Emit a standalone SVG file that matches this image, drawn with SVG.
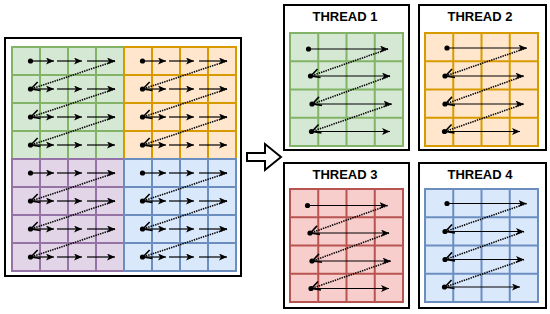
<svg xmlns="http://www.w3.org/2000/svg" width="550" height="314" viewBox="0 0 550 314">
<style>
.box{fill:#fff;stroke:#000;stroke-width:2}
.g{fill:#d5e8d4;stroke:#82b366;stroke-width:2}
.o{fill:#ffe6cc;stroke:#d79b00;stroke-width:2}
.p{fill:#e1d5e7;stroke:#9673a6;stroke-width:2}
.b{fill:#dae8fc;stroke:#6c8ebf;stroke-width:2}
.r{fill:#f8cecc;stroke:#b85450;stroke-width:2}
.gl{fill:none;stroke-width:2}
.t{font-family:"Liberation Sans",Arial,sans-serif;font-weight:bold;font-size:13px;text-anchor:middle;fill:#000}
.a{stroke:#000;stroke-width:1.2;fill:none;marker-end:url(#ah)}
.d{stroke:#000;stroke-width:1.6;stroke-dasharray:1.4 1;fill:none;marker-end:url(#oh)}
.dot{fill:#000}
</style>
<defs>
<marker id="ah" markerUnits="userSpaceOnUse" viewBox="0 0 8 7" markerWidth="8" markerHeight="7" refX="8" refY="3.5" orient="auto">
<path d="M0,0 L8,3.5 L0,7 L2,3.5 Z" fill="#000" stroke="none"/>
</marker>
<marker id="oh" markerUnits="userSpaceOnUse" viewBox="0 0 9 10" markerWidth="9" markerHeight="10" refX="8.5" refY="5" orient="auto" overflow="visible">
<path d="M0,0.5 L8.5,5 L0,9.5" fill="none" stroke="#000" stroke-width="1.6" stroke-dasharray="none"/>
</marker>
</defs>

<g id="all-data">
<rect class="box" x="5" y="38" width="236" height="238"/>
</g>
<g id="block-green">
<rect class="g" x="12" y="47" width="112" height="112"/>
<path class="gl" stroke="#82b366" d="M40,47V159M68,47V159M96,47V159M12,75H124M12,103H124M12,131H124"/>
</g>
<g id="block-orange">
<rect class="o" x="124" y="47" width="112" height="112"/>
<path class="gl" stroke="#d79b00" d="M152,47V159M180,47V159M208,47V159M124,75H236M124,103H236M124,131H236"/>
</g>
<g id="block-purple">
<rect class="p" x="12" y="159" width="112" height="112"/>
<path class="gl" stroke="#9673a6" d="M40,159V271M68,159V271M96,159V271M12,187H124M12,215H124M12,243H124"/>
</g>
<g id="block-blue">
<rect class="b" x="124" y="159" width="112" height="112"/>
<path class="gl" stroke="#6c8ebf" d="M152,159V271M180,159V271M208,159V271M124,187H236M124,215H236M124,243H236"/>
</g>

<g id="thread1">
<rect class="box" x="284" y="5" width="125" height="145"/>
<text class="t" x="345" y="20.5">THREAD 1</text>
<rect class="g" x="290" y="33" width="113" height="113"/>
<path class="gl" stroke="#82b366" d="M318.25,33V146M346.5,33V146M374.75,33V146M290,61.25H403M290,89.5H403M290,117.75H403"/>
</g>
<g id="thread2">
<rect class="box" x="419" y="5" width="127" height="145"/>
<text class="t" x="480" y="20.5">THREAD 2</text>
<rect class="o" x="425" y="33" width="113" height="113"/>
<path class="gl" stroke="#d79b00" d="M453.25,33V146M481.5,33V146M509.75,33V146M425,61.25H538M425,89.5H538M425,117.75H538"/>
</g>
<g id="thread3">
<rect class="box" x="284" y="163" width="125" height="145"/>
<text class="t" x="345" y="178.5">THREAD 3</text>
<rect class="r" x="290" y="189" width="113" height="113"/>
<path class="gl" stroke="#b85450" d="M318.25,189V302M346.5,189V302M374.75,189V302M290,217.25H403M290,245.5H403M290,273.75H403"/>
</g>
<g id="thread4">
<rect class="box" x="419" y="163" width="127" height="145"/>
<text class="t" x="480" y="178.5">THREAD 4</text>
<rect class="b" x="425" y="189" width="113" height="113"/>
<path class="gl" stroke="#6c8ebf" d="M453.25,189V302M481.5,189V302M509.75,189V302M425,217.25H538M425,245.5H538M425,273.75H538"/>
</g>

<g id="connectors">
<polygon points="247,153 265,153 265,144 281,157 265,170 265,161 247,161" fill="#fff" stroke="#000" stroke-width="2" stroke-linejoin="miter"/>

<g id="traversal-green">
<path class="a" d="M30.5,61H54"/><path class="a" d="M57,61H82"/><path class="a" d="M87,61H115"/>
<path class="a" d="M30.5,89H54"/><path class="a" d="M57,89H82"/><path class="a" d="M87,89H115"/>
<path class="a" d="M30.5,117H54"/><path class="a" d="M57,117H82"/><path class="a" d="M87,117H115"/>
<path class="a" d="M30.5,145H54"/><path class="a" d="M57,145H82"/><path class="a" d="M87,145H115"/>
<path class="d" d="M115,61L31,89"/><path class="d" d="M115,89L31,117"/><path class="d" d="M115,117L31,145"/>
<circle class="dot" cx="30.5" cy="61" r="2.6"/><circle class="dot" cx="30.5" cy="89" r="2.6"/><circle class="dot" cx="30.5" cy="117" r="2.6"/><circle class="dot" cx="30.5" cy="145" r="2.6"/>
</g>
<g id="traversal-orange">
<path class="a" d="M142.5,61H166"/><path class="a" d="M169,61H194"/><path class="a" d="M199,61H227"/>
<path class="a" d="M142.5,89H166"/><path class="a" d="M169,89H194"/><path class="a" d="M199,89H227"/>
<path class="a" d="M142.5,117H166"/><path class="a" d="M169,117H194"/><path class="a" d="M199,117H227"/>
<path class="a" d="M142.5,145H166"/><path class="a" d="M169,145H194"/><path class="a" d="M199,145H227"/>
<path class="d" d="M227,61L143,89"/><path class="d" d="M227,89L143,117"/><path class="d" d="M227,117L143,145"/>
<circle class="dot" cx="142.5" cy="61" r="2.6"/><circle class="dot" cx="142.5" cy="89" r="2.6"/><circle class="dot" cx="142.5" cy="117" r="2.6"/><circle class="dot" cx="142.5" cy="145" r="2.6"/>
</g>
<g id="traversal-purple">
<path class="a" d="M30.5,173H54"/><path class="a" d="M57,173H82"/><path class="a" d="M87,173H115"/>
<path class="a" d="M30.5,201H54"/><path class="a" d="M57,201H82"/><path class="a" d="M87,201H115"/>
<path class="a" d="M30.5,229H54"/><path class="a" d="M57,229H82"/><path class="a" d="M87,229H115"/>
<path class="a" d="M30.5,257H54"/><path class="a" d="M57,257H82"/><path class="a" d="M87,257H115"/>
<path class="d" d="M115,173L31,201"/><path class="d" d="M115,201L31,229"/><path class="d" d="M115,229L31,257"/>
<circle class="dot" cx="30.5" cy="173" r="2.6"/><circle class="dot" cx="30.5" cy="201" r="2.6"/><circle class="dot" cx="30.5" cy="229" r="2.6"/><circle class="dot" cx="30.5" cy="257" r="2.6"/>
</g>
<g id="traversal-blue">
<path class="a" d="M142.5,173H166"/><path class="a" d="M169,173H194"/><path class="a" d="M199,173H227"/>
<path class="a" d="M142.5,201H166"/><path class="a" d="M169,201H194"/><path class="a" d="M199,201H227"/>
<path class="a" d="M142.5,229H166"/><path class="a" d="M169,229H194"/><path class="a" d="M199,229H227"/>
<path class="a" d="M142.5,257H166"/><path class="a" d="M169,257H194"/><path class="a" d="M199,257H227"/>
<path class="d" d="M227,173L143,201"/><path class="d" d="M227,201L143,229"/><path class="d" d="M227,229L143,257"/>
<circle class="dot" cx="142.5" cy="173" r="2.6"/><circle class="dot" cx="142.5" cy="201" r="2.6"/><circle class="dot" cx="142.5" cy="229" r="2.6"/><circle class="dot" cx="142.5" cy="257" r="2.6"/>
</g>

<g id="traversal-t1">
<path class="a" d="M308.5,49H388"/><path class="a" d="M310.5,76H390"/><path class="a" d="M312,104H391.5"/><path class="a" d="M311.5,131.5H390"/>
<path class="d" d="M388,49L311,76"/><path class="d" d="M390,76L312.5,104"/><path class="d" d="M391.5,104L312,131.5"/>
<circle class="dot" cx="308.5" cy="49" r="2.6"/><circle class="dot" cx="310.5" cy="76" r="2.6"/><circle class="dot" cx="312" cy="104" r="2.6"/><circle class="dot" cx="311.5" cy="131.5" r="2.6"/>
</g>
<g id="traversal-t2">
<path class="a" d="M447,48H526.5"/><path class="a" d="M445,76H523.5"/><path class="a" d="M445,104H523.5"/><path class="a" d="M444.5,131.5H520"/>
<path class="d" d="M526.5,48L445.5,76"/><path class="d" d="M523.5,76L445.5,104"/><path class="d" d="M523.5,104L445,131.5"/>
<circle class="dot" cx="447" cy="48" r="2.6"/><circle class="dot" cx="445" cy="76" r="2.6"/><circle class="dot" cx="445" cy="104" r="2.6"/><circle class="dot" cx="444.5" cy="131.5" r="2.6"/>
</g>
<g id="traversal-t3">
<path class="a" d="M307.5,205.5H387.5"/><path class="a" d="M310,233H389"/><path class="a" d="M312,261H390.5"/><path class="a" d="M311,288.5H389"/>
<path class="d" d="M387.5,205.5L310.5,233"/><path class="d" d="M389,233L312.5,261"/><path class="d" d="M390.5,261L311.5,288.5"/>
<circle class="dot" cx="307.5" cy="205.5" r="2.6"/><circle class="dot" cx="310" cy="233" r="2.6"/><circle class="dot" cx="312" cy="261" r="2.6"/><circle class="dot" cx="311" cy="288.5" r="2.6"/>
</g>
<g id="traversal-t4">
<path class="a" d="M447,203.5H526.5"/><path class="a" d="M445,231.5H524"/><path class="a" d="M445,259.5H524"/><path class="a" d="M444.5,287H520"/>
<path class="d" d="M526.5,203.5L445.5,231.5"/><path class="d" d="M524,231.5L445.5,259.5"/><path class="d" d="M524,259.5L445,287"/>
<circle class="dot" cx="447" cy="203.5" r="2.6"/><circle class="dot" cx="445" cy="231.5" r="2.6"/><circle class="dot" cx="445" cy="259.5" r="2.6"/><circle class="dot" cx="444.5" cy="287" r="2.6"/>
</g>
</g>
</svg>
